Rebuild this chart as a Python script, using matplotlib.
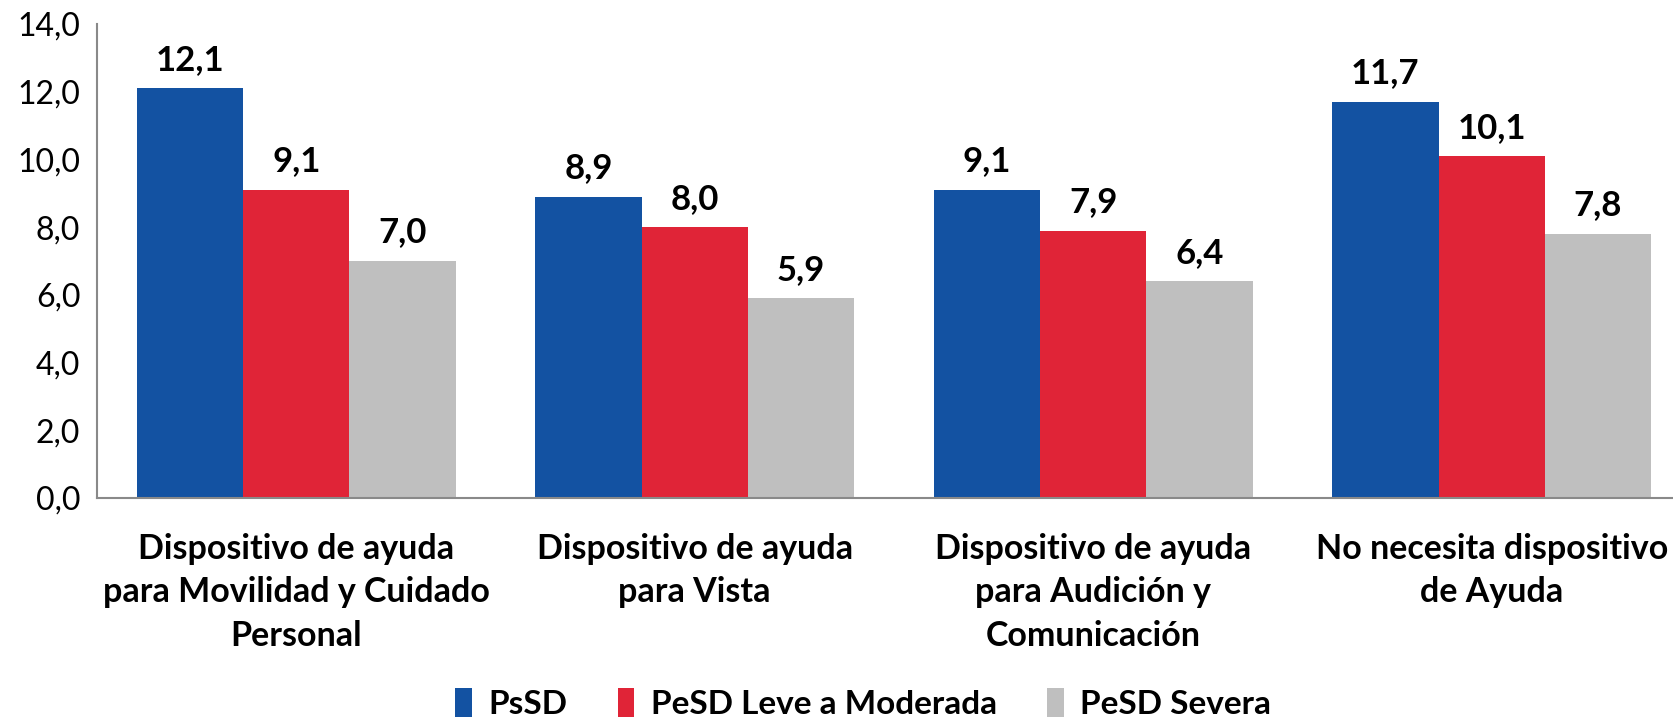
import matplotlib.pyplot as plt
import numpy as np

categories = [
    "Dispositivo de ayuda\npara Movilidad y Cuidado\nPersonal",
    "Dispositivo de ayuda\npara Vista",
    "Dispositivo de ayuda\npara Audición y\nComunicación",
    "No necesita dispositivo\nde Ayuda",
]
series = ["PsSD", "PeSD Leve a Moderada", "PeSD Severa"]
psd = [12.1, 8.9, 9.1, 11.7]
pesd_leve = [9.1, 8.0, 7.9, 10.1]
pesd_severa = [7.0, 5.9, 6.4, 7.8]
colors = ["#1352A2", "#E02437", "#BFBFBF"]


def fmt(v):
    return f"{v:.1f}".replace(".", ",")


def main():
    plt.rcParams["font.family"] = ["Lato", "DejaVu Sans"]
    fig = plt.figure(figsize=(16.73, 7.19), dpi=100)
    ax = fig.add_axes([0.058, 0.3074, 0.942, 0.6592])

    x = np.arange(len(categories))
    w = 0.8 / 3
    for i, (name, vals) in enumerate(zip(series, [psd, pesd_leve, pesd_severa])):
        bars = ax.bar(x + (i - 1) * w, vals, width=w, color=colors[i], label=name)
        for b, v in zip(bars, vals):
            ax.annotate(fmt(v), (b.get_x() + b.get_width() / 2, v),
                        xytext=(0, 9), textcoords="offset points",
                        ha="center", va="bottom", fontsize=25, fontweight="bold")

    ax.set_xlim(-0.5, 3.455)
    ax.set_ylim(0, 14)
    ax.set_yticks(np.arange(0, 14.1, 2))
    ax.set_yticklabels([fmt(t) for t in np.arange(0, 14.1, 2)], fontsize=23)
    ax.set_xticks(x)
    ax.set_xticklabels(categories, fontsize=24.5, fontweight="bold", linespacing=1.45)
    ax.tick_params(axis="y", length=0, pad=12)
    ax.tick_params(axis="x", length=0, pad=25)
    for s in ["top", "right"]:
        ax.spines[s].set_visible(False)
    for s in ["left", "bottom"]:
        ax.spines[s].set_color("#898989")
        ax.spines[s].set_linewidth(1.5)

    fig.legend(loc="center", bbox_to_anchor=(0.516, 0.022), ncol=3, frameon=False,
               prop={"size": 24, "weight": "bold"}, handlelength=0.5, handleheight=1.0,
               columnspacing=1.5, handletextpad=0.5)

    fig.savefig("out.png", dpi=100)


if __name__ == "__main__":
    main()
